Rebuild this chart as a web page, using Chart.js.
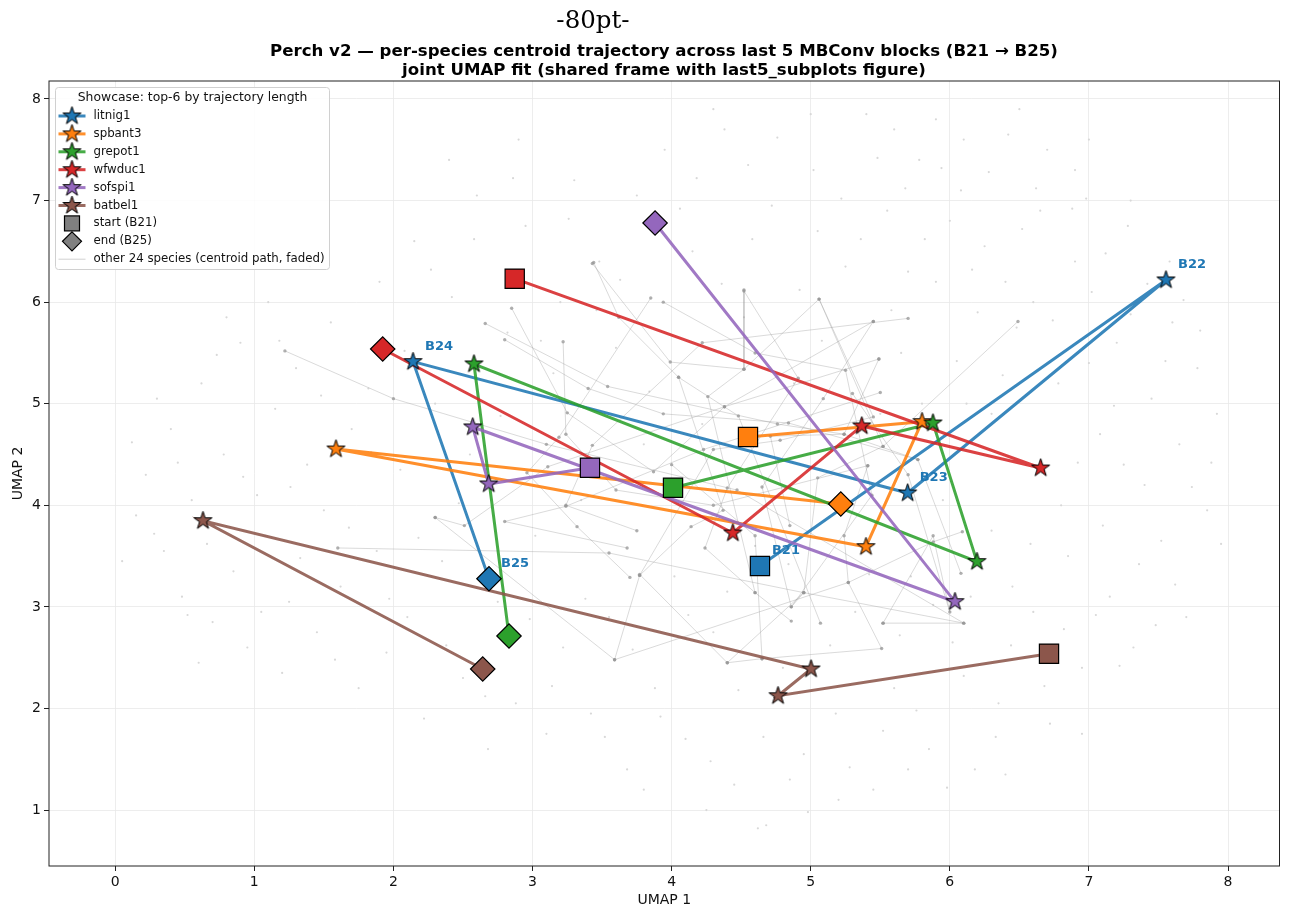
<!DOCTYPE html>
<html>
<head>
<meta charset="utf-8">
<script src="https://cdn.jsdelivr.net/npm/chart.js@4.4.1/dist/chart.umd.min.js"></script>
<style>
  html, body { margin: 0; padding: 0; background: #fff; overflow: hidden; }
  #wrap { width: 1291px; height: 912px; }
  canvas { display: block; }
</style>
</head>
<body>
<div id="wrap"><canvas id="chart" width="1291" height="912"></canvas></div>
<script>
// ---- data (UMAP coordinates) ----
const xTicks = [0, 1, 2, 3, 4, 5, 6, 7, 8];
const yTicks = [1, 2, 3, 4, 5, 6, 7, 8];
const blockLabels = ['B21', 'B22', 'B23', 'B24', 'B25'];

const speciesNames = ['litnig1', 'spbant3', 'grepot1', 'wfwduc1', 'sofspi1', 'batbel1'];
const speciesColors = ['#1f77b4', '#ff7f0e', '#2ca02c', '#d62728', '#9467bd', '#8c564b'];

// centroid per block, B21 .. B25
const litnig1 = [[4.635, 3.402], [7.554, 6.218], [5.697, 4.121], [2.141, 5.414], [2.687, 3.277]];
const spbant3 = [[4.549, 4.672], [5.800, 4.823], [5.397, 3.592], [1.587, 4.554], [5.216, 4.013]];
const grepot1 = [[4.010, 4.173], [5.879, 4.810], [6.195, 3.445], [2.579, 5.391], [2.831, 2.713]];
const wfwduc1 = [[2.872, 6.231], [6.653, 4.367], [5.367, 4.781], [4.440, 3.727], [1.923, 5.539]];
const sofspi1 = [[3.413, 4.370], [2.685, 4.210], [2.570, 4.771], [6.037, 3.051], [3.881, 6.779]];
const batbel1 = [[6.713, 2.539], [4.765, 2.125], [5.002, 2.388], [0.631, 3.848], [2.642, 2.388]];
const speciesPaths = [litnig1, spbant3, grepot1, wfwduc1, sofspi1, batbel1];

// the other 24 species (faded centroid paths)
const otherPaths = [
  [[3.44, 6.39], [3.62, 5.85], [4.05, 5.26], [4.48, 4.88], [5.07, 2.84]],
  [[4.52, 6.12], [4.52, 5.34], [4.26, 5.07], [4.60, 3.14], [4.86, 2.86]],
  [[3.43, 6.38], [3.99, 5.41], [4.52, 5.34], [5.06, 6.03], [5.52, 4.58]],
  [[2.85, 5.94], [3.25, 4.91], [3.87, 4.33], [4.38, 4.97], [5.45, 5.81]],
  [[2.66, 5.79], [3.54, 5.17], [4.76, 4.80], [5.24, 4.70], [5.49, 5.44]],
  [[2.80, 5.63], [3.40, 5.15], [3.94, 4.90], [4.84, 4.81], [5.77, 4.45]],
  [[3.22, 5.61], [3.24, 4.70], [3.60, 4.15], [4.30, 4.00], [5.41, 4.39]],
  [[3.85, 6.04], [3.19, 4.67], [2.96, 4.32], [3.32, 3.79], [3.70, 3.29]],
  [[4.52, 6.11], [4.91, 5.25], [4.40, 4.17], [4.24, 3.58], [4.60, 3.14]],
  [[5.06, 6.03], [5.45, 4.87], [4.78, 4.64], [4.30, 4.55], [3.77, 3.31]],
  [[5.70, 5.84], [4.22, 5.60], [3.43, 4.59], [3.24, 4.00], [3.75, 3.75]],
  [[5.45, 5.81], [5.09, 5.05], [4.65, 4.18], [4.86, 3.00], [4.95, 3.14]],
  [[5.49, 5.44], [4.38, 4.97], [3.11, 4.38], [2.51, 3.80], [2.30, 3.88]],
  [[5.50, 5.11], [4.23, 4.55], [3.24, 3.99], [2.80, 3.84], [3.68, 3.58]],
  [[6.49, 5.81], [5.52, 4.58], [5.05, 4.27], [4.95, 3.14], [4.40, 2.45]],
  [[4.05, 5.26], [4.37, 3.95], [4.14, 3.79], [3.77, 3.31], [3.59, 2.48]],
  [[2.30, 3.88], [3.59, 2.48], [5.27, 3.24], [5.88, 3.64], [6.09, 3.74]],
  [[4.65, 2.49], [5.51, 2.59], [5.27, 3.24], [5.24, 3.70], [5.41, 4.39]],
  [[1.22, 5.52], [2.00, 5.05], [3.10, 4.60], [4.47, 4.15], [6.10, 2.84]],
  [[1.60, 3.58], [3.55, 3.53], [4.95, 3.14], [6.10, 2.84], [5.52, 2.84]],
  [[6.08, 3.33], [5.77, 4.45], [5.24, 4.70], [4.71, 4.68], [4.85, 3.80]],
  [[5.30, 5.10], [5.70, 4.30], [6.00, 2.95], [5.88, 3.70], [5.52, 2.84]],
  [[3.77, 3.32], [4.40, 2.45], [4.65, 2.49], [4.60, 3.70], [4.00, 4.40]],
  [[3.94, 6.00], [4.60, 5.50], [5.25, 5.33], [5.44, 4.10], [4.86, 3.00]]
];

// faint background embedding points
const bgPoints = [
  [0.15, 3.9], [0.22, 4.3], [0.35, 3.55], [0.4, 4.75], [0.48, 3.1], [0.55, 4.05], [0.62, 5.2], [0.7, 2.85],
  [0.78, 4.5], [0.85, 3.35], [0.9, 5.6], [0.95, 2.6], [1.02, 4.1], [1.08, 3.7], [1.15, 4.95], [1.2, 2.35],
  [1.25, 3.05], [1.3, 5.35], [1.38, 4.4], [1.45, 2.75], [1.5, 3.95], [1.55, 5.8], [1.62, 3.2], [1.7, 4.75],
  [1.75, 2.2], [1.82, 5.15], [1.88, 3.55], [1.95, 2.55], [0.3, 5.05], [0.05, 3.45], [0.6, 2.45], [1.1, 6.0],
  [0.8, 5.85], [1.4, 6.35], [1.9, 6.2], [2.05, 4.35], [2.1, 2.9], [2.15, 6.6], [2.22, 1.9], [2.3, 5.0],
  [2.35, 3.45], [2.42, 6.05], [2.5, 2.3], [2.55, 4.5], [2.6, 7.05], [2.68, 1.6], [2.75, 3.05], [2.82, 5.7],
  [2.88, 2.05], [2.95, 6.75], [3.02, 3.7], [3.1, 1.75], [3.15, 5.3], [3.22, 2.6], [3.3, 7.2], [3.35, 4.05],
  [3.42, 1.95], [3.48, 6.4], [2.4, 7.4], [2.9, 7.6], [3.2, 6.0], [3.55, 2.9], [3.6, 5.55], [3.68, 1.4],
  [3.75, 7.05], [3.8, 4.6], [3.88, 2.2], [3.95, 7.5], [4.02, 3.3], [4.1, 1.7], [4.15, 6.5], [4.22, 4.8],
  [4.3, 2.75], [4.38, 7.7], [4.45, 1.25], [4.52, 5.85], [4.6, 3.6], [4.68, 0.85], [4.72, 6.95], [4.8, 2.4],
  [4.88, 5.2], [4.95, 1.55], [5.02, 7.3], [5.1, 3.85], [5.18, 1.95], [5.25, 6.35], [5.32, 2.95], [5.4, 7.85],
  [5.45, 1.2], [5.5, 4.9], [4.55, 7.35], [3.9, 6.85], [4.25, 1.0], [4.62, 0.82], [5.05, 6.7], [4.4, 3.15],
  [5.55, 6.9], [5.6, 2.2], [5.65, 5.5], [5.72, 3.3], [5.78, 7.4], [5.85, 1.6], [5.9, 6.2], [5.95, 4.05],
  [6.02, 2.65], [6.08, 7.1], [6.12, 5.0], [6.18, 1.4], [6.25, 6.55], [6.3, 3.75], [6.35, 2.05], [6.42, 7.65],
  [6.48, 5.75], [6.55, 4.4], [6.6, 2.95], [6.65, 6.9], [6.72, 1.85], [6.78, 5.2], [6.85, 3.5], [6.9, 7.3],
  [6.95, 2.4], [7.02, 6.1], [7.08, 4.7], [7.15, 3.1], [7.2, 5.6], [7.28, 6.75], [7.32, 2.6], [7.4, 4.2],
  [7.45, 5.05], [7.52, 3.65], [7.58, 6.4], [7.65, 4.6], [7.7, 2.9], [7.78, 5.35], [7.85, 3.95], [7.92, 4.9],
  [6.0, 6.8], [6.4, 6.2], [6.9, 6.4], [7.3, 7.0], [5.8, 5.0], [6.2, 5.9], [6.6, 6.0], [7.0, 5.4],
  [6.45, 3.2], [7.1, 3.8], [6.8, 4.0], [6.3, 4.9], [7.6, 5.8], [5.7, 6.3], [6.7, 7.5], [5.9, 7.8],
  [6.15, 3.1], [7.25, 4.4],
  [0.28, 3.72], [0.45, 4.42], [0.66, 3.62], [0.73, 5.48], [0.92, 4.28], [1.05, 2.95], [1.18, 5.62], [1.33, 3.48],
  [1.48, 5.08], [1.58, 2.48], [1.68, 3.78], [1.84, 4.52], [1.97, 3.08], [0.52, 2.92], [0.12, 4.62], [1.26, 4.18],
  [2.08, 5.52], [2.18, 3.68], [2.27, 6.32], [2.38, 2.62], [2.47, 4.02], [2.58, 6.62], [2.66, 2.12], [2.77, 4.88],
  [2.86, 7.22], [2.98, 2.88], [3.06, 5.62], [3.14, 2.22], [3.26, 6.82], [3.38, 3.08], [3.46, 5.92], [3.52, 1.72],
  [3.63, 6.22], [3.72, 2.58], [3.84, 5.12], [3.92, 1.92], [4.06, 6.92], [4.12, 2.92], [4.18, 7.22], [4.28, 1.48],
  [4.36, 6.18], [4.48, 2.18], [4.58, 6.62], [4.66, 1.72], [4.76, 7.62], [4.84, 3.42], [4.92, 6.12], [4.98, 0.98],
  [5.08, 5.62], [5.14, 2.62], [5.22, 7.02], [5.28, 1.42], [5.36, 6.62], [5.42, 3.32], [5.48, 7.42], [5.52, 1.78],
  [5.58, 5.92], [5.64, 2.72], [5.68, 7.12], [5.76, 1.98], [5.82, 6.62], [5.88, 3.02], [5.94, 7.32], [5.98, 1.22],
  [6.05, 5.42], [6.1, 2.32], [6.16, 6.32], [6.22, 3.42], [6.28, 7.28], [6.33, 1.72], [6.38, 5.28], [6.44, 2.62],
  [6.52, 6.72], [6.58, 3.62], [6.62, 7.12], [6.68, 2.22], [6.74, 5.82], [6.82, 2.78], [6.88, 6.92], [6.92, 4.42],
  [6.98, 7.02], [7.05, 2.92], [7.12, 6.48], [7.18, 4.98], [7.22, 2.42], [7.3, 5.88], [7.36, 3.42], [7.42, 6.18],
  [7.48, 2.82], [7.55, 5.42], [7.62, 3.22], [7.68, 6.02], [7.74, 4.18], [7.8, 5.72], [7.88, 4.42], [7.95, 3.62],
  [6.5, 7.9], [6.1, 7.6], [5.6, 7.7], [7.0, 7.6], [4.3, 7.9], [5.0, 7.85], [6.95, 1.75], [6.4, 1.35],
  [5.2, 1.1], [4.85, 1.3], [3.8, 1.2], [5.7, 1.4]
];

const legendTitle = 'Showcase: top-6 by trajectory length';
const markerLegend = ['start (B21)', 'end (B25)', 'other 24 species (centroid path, faded)'];
const figTag = '-80pt-';
const titleLines = [
  'Perch v2 \u2014 per-species centroid trajectory across last 5 MBConv blocks (B21 \u2192 B25)',
  'joint UMAP fit (shared frame with last5_subplots figure)'
];

// ---- helpers ----
const FONT = '"DejaVu Sans", sans-serif';

function withAlpha(hex, a) {
  const n = parseInt(hex.slice(1), 16);
  return 'rgba(' + (n >> 16) + ',' + ((n >> 8) & 255) + ',' + (n & 255) + ',' + a + ')';
}

function starPath(g, cx, cy, r) {
  const inner = r * 0.382;
  g.beginPath();
  for (let k = 0; k < 10; k++) {
    const rr = k % 2 ? inner : r;
    const a = -Math.PI / 2 + k * Math.PI / 5;
    g.lineTo(cx + rr * Math.cos(a), cy + rr * Math.sin(a));
  }
  g.closePath();
}

function makeStar(color, r) {
  const size = Math.ceil(r * 2 + 4);
  const c = document.createElement('canvas');
  c.width = size;
  c.height = size;
  const g = c.getContext('2d');
  starPath(g, size / 2, size / 2, r);
  g.fillStyle = color;
  g.fill();
  g.lineWidth = 1;
  g.strokeStyle = '#000';
  g.stroke();
  return c;
}

const STAR_R = 9.5;
const starImgs = speciesColors.map(c => makeStar(c, STAR_R));

// ---- datasets ----
const datasets = [];

datasets.push({
  data: bgPoints.map(p => ({ x: p[0], y: p[1] })),
  pointRadius: 1.1,
  pointBackgroundColor: '#d8d8d8',
  pointBorderWidth: 0,
  showLine: false,
  order: 200
});

otherPaths.forEach(path => {
  datasets.push({
    data: path.map(p => ({ x: p[0], y: p[1] })),
    showLine: true,
    borderColor: 'rgba(150,150,150,0.4)',
    borderWidth: 0.9,
    pointRadius: 1.7,
    pointBackgroundColor: 'rgba(150,150,150,0.75)',
    pointBorderWidth: 0,
    order: 150
  });
});

speciesPaths.forEach((path, i) => {
  datasets.push({
    label: speciesNames[i],
    data: path.map(p => ({ x: p[0], y: p[1] })),
    showLine: true,
    borderColor: withAlpha(speciesColors[i], 0.88),
    borderWidth: 3,
    pointRadius: 0,
    order: 100 - i
  });
});

speciesPaths.forEach((path, i) => {
  datasets.push({
    data: path.map(p => ({ x: p[0], y: p[1] })),
    showLine: false,
    pointStyle: ['rect', starImgs[i], starImgs[i], starImgs[i], 'rectRot'],
    pointRadius: [13.6, STAR_R, STAR_R, STAR_R, 12.2],
    pointBackgroundColor: speciesColors[i],
    pointBorderColor: '#000',
    pointBorderWidth: 1.2,
    order: 50 - i
  });
});

// ---- plugins ----
const framePlugin = {
  id: 'frame',
  afterDraw(chart) {
    const { ctx, chartArea: a } = chart;
    ctx.save();
    ctx.strokeStyle = '#222';
    ctx.lineWidth = 1;
    ctx.strokeRect(a.left, a.top, a.right - a.left, a.bottom - a.top);
    ctx.restore();
  }
};

const blockLabelPlugin = {
  id: 'blockLabels',
  afterDatasetsDraw(chart) {
    const { ctx, scales: { x, y } } = chart;
    ctx.save();
    ctx.font = 'bold 13px ' + FONT;
    ctx.fillStyle = speciesColors[0];
    ctx.textAlign = 'left';
    ctx.textBaseline = 'middle';
    litnig1.forEach((p, k) => {
      ctx.fillText(blockLabels[k], x.getPixelForValue(p[0]) + 12, y.getPixelForValue(p[1]) - 15);
    });
    ctx.restore();
  }
};

const legendPlugin = {
  id: 'boxLegend',
  afterDraw(chart) {
    const ctx = chart.ctx;
    const bx = 55.5, by = 87.5, bw = 274, bh = 182;
    ctx.save();
    ctx.beginPath();
    ctx.roundRect(bx, by, bw, bh, 3);
    ctx.fillStyle = 'rgba(255,255,255,0.85)';
    ctx.fill();
    ctx.strokeStyle = '#d0d0d0';
    ctx.lineWidth = 1;
    ctx.stroke();

    ctx.font = '12.4px ' + FONT;
    ctx.fillStyle = '#111';
    ctx.textBaseline = 'middle';
    ctx.textAlign = 'center';
    ctx.fillText(legendTitle, 192.5, 97.5);

    ctx.font = '11.8px ' + FONT;
    ctx.textAlign = 'left';
    const rowY = k => 116 + k * 17.9;
    speciesNames.forEach((name, i) => {
      const yy = rowY(i);
      ctx.strokeStyle = withAlpha(speciesColors[i], 0.88);
      ctx.lineWidth = 3;
      ctx.beginPath();
      ctx.moveTo(58.5, yy);
      ctx.lineTo(85.5, yy);
      ctx.stroke();
      ctx.drawImage(starImgs[i], 72 - starImgs[i].width / 2, yy - starImgs[i].height / 2);
      ctx.fillStyle = '#111';
      ctx.fillText(name, 93.5, yy);
    });

    // start square
    let yy = rowY(6);
    ctx.fillStyle = '#808080';
    ctx.strokeStyle = '#000';
    ctx.lineWidth = 1.2;
    ctx.fillRect(64.5, yy - 7.5, 15, 15);
    ctx.strokeRect(64.5, yy - 7.5, 15, 15);
    ctx.fillStyle = '#111';
    ctx.fillText(markerLegend[0], 93.5, yy);

    // end diamond
    yy = rowY(7);
    ctx.beginPath();
    ctx.moveTo(72, yy - 9.5);
    ctx.lineTo(81.5, yy);
    ctx.lineTo(72, yy + 9.5);
    ctx.lineTo(62.5, yy);
    ctx.closePath();
    ctx.fillStyle = '#808080';
    ctx.fill();
    ctx.stroke();
    ctx.fillStyle = '#111';
    ctx.fillText(markerLegend[1], 93.5, yy);

    // faded path
    yy = rowY(8);
    ctx.strokeStyle = 'rgba(150,150,150,0.45)';
    ctx.lineWidth = 1;
    ctx.beginPath();
    ctx.moveTo(58.5, yy);
    ctx.lineTo(85.5, yy);
    ctx.stroke();
    ctx.fillStyle = '#111';
    ctx.fillText(markerLegend[2], 93.5, yy);
    ctx.restore();
  }
};

const titlePlugin = {
  id: 'figTitles',
  afterDraw(chart) {
    const ctx = chart.ctx;
    ctx.save();
    ctx.fillStyle = '#000';
    ctx.textAlign = 'center';
    ctx.textBaseline = 'alphabetic';
    ctx.font = '24.5px "DejaVu Serif", serif';
    ctx.fillText(figTag, 593, 27.5);
    ctx.font = 'bold 16.6px ' + FONT;
    ctx.fillText(titleLines[0], 664, 55.5);
    ctx.fillText(titleLines[1], 664, 74.5);
    ctx.restore();
  }
};

// ---- chart ----
const tickFont = { family: FONT, size: 14 };
new Chart(document.getElementById('chart').getContext('2d'), {
  type: 'scatter',
  data: { datasets },
  options: {
    responsive: false,
    animation: false,
    devicePixelRatio: 1,
    layout: { autoPadding: false, padding: { left: 0, right: 11.5, top: 81, bottom: 0 } },
    plugins: {
      legend: { display: false },
      tooltip: { enabled: false },
      title: { display: false }
    },
    scales: {
      x: {
        type: 'linear',
        min: -0.476,
        max: 8.37,
        afterBuildTicks: s => { s.ticks = xTicks.map(v => ({ value: v })); },
        afterFit: s => { s.height = 46; s.paddingLeft = 0; s.paddingRight = 0; },
        ticks: { font: tickFont, color: '#111', padding: 3, autoSkip: false, maxRotation: 0, callback: v => String(v) },
        grid: { color: '#e9e9e9', lineWidth: 0.8, tickLength: 5, tickColor: '#222', tickWidth: 1 },
        border: { display: false },
        title: { display: true, text: 'UMAP 1', font: tickFont, color: '#111', padding: { top: 0, bottom: 3 } }
      },
      y: {
        type: 'linear',
        min: 0.449,
        max: 8.177,
        afterBuildTicks: s => { s.ticks = yTicks.map(v => ({ value: v })); },
        afterFit: s => { s.width = 49; s.paddingTop = 0; s.paddingBottom = 0; },
        ticks: { font: tickFont, color: '#111', padding: 3, autoSkip: false, callback: v => String(v) },
        grid: { color: '#e9e9e9', lineWidth: 0.8, tickLength: 5, tickColor: '#222', tickWidth: 1 },
        border: { display: false },
        title: { display: true, text: 'UMAP 2', font: tickFont, color: '#111', padding: { top: 10, bottom: 0 } }
      }
    }
  },
  plugins: [framePlugin, blockLabelPlugin, legendPlugin, titlePlugin]
});
</script>
</body>
</html>
